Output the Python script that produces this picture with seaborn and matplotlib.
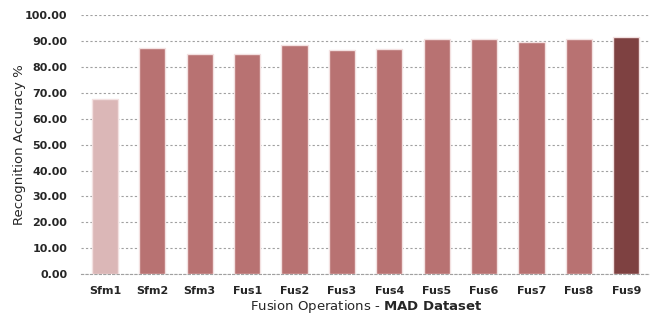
import matplotlib
matplotlib.use("Agg")
import matplotlib.pyplot as plt
import seaborn as sns
import pandas as pd

# recognition accuracy per fusion operation (MAD dataset)
operations = ['Sfm1', 'Sfm2', 'Sfm3', 'Fus1', 'Fus2', 'Fus3',
              'Fus4', 'Fus5', 'Fus6', 'Fus7', 'Fus8', 'Fus9']
accuracy = [67.7, 87.6, 85.0, 85.2, 88.6, 86.5, 87.0, 91.0, 90.8, 89.7, 91.0, 91.8]
bar_colors = ['#dbb7b7'] + ['#b87272'] * 10 + ['#7e4141']
y_ticks = [0, 10, 20, 30, 40, 50, 60, 70, 80, 90, 100]

df = pd.DataFrame({'op': operations, 'acc': accuracy})

sns.set_style('white')
plt.rcParams['font.family'] = ['DejaVu Sans']
plt.rcParams['mathtext.fontset'] = 'dejavusans'

fig = plt.figure(figsize=(6.5, 3.16), dpi=100)
ax = fig.add_axes([0.125, 0.133, 0.875, 0.818])

sns.barplot(data=df, x='op', y='acc', hue='op', palette=bar_colors, legend=False,
            width=0.55, edgecolor='#f3e1e1', linewidth=1.0, saturation=1, ax=ax, zorder=3)

# grid lines
ax.set_ylim(0, 100)
ax.set_xlim(-0.5, 11.5)
ax.set_yticks(y_ticks)
ax.set_yticklabels([f'{v:.2f}' for v in y_ticks], fontsize=8, fontweight='bold')
ax.yaxis.grid(True, linestyle=(0, (2, 2)), color='#a0a0a0', linewidth=0.8, zorder=0)
ax.tick_params(axis='y', length=0, pad=10)

# category separators on x axis
ax.set_xticks(range(len(operations)))
ax.set_xticklabels(operations, fontsize=8, fontweight='bold')
ax.set_xticks([i + 0.5 for i in range(-1, len(operations))], minor=True)
ax.tick_params(axis='x', which='major', length=0, pad=9)
ax.tick_params(axis='x', which='minor', length=4, color='#b0b0b0', direction='out')

for s in ['top', 'right', 'left']:
    ax.spines[s].set_visible(False)
ax.spines['bottom'].set_color('#a0a0a0')
ax.spines['bottom'].set_linestyle((0, (2, 2)))
ax.spines['bottom'].set_linewidth(0.8)

ax.set_ylabel('Recognition Accuracy %', fontsize=9.5, labelpad=-1)
ax.set_xlabel(r'Fusion Operations - $\mathbf{MAD\ Dataset}$', fontsize=9.5, labelpad=1)

fig.savefig('out.png', dpi=100)
